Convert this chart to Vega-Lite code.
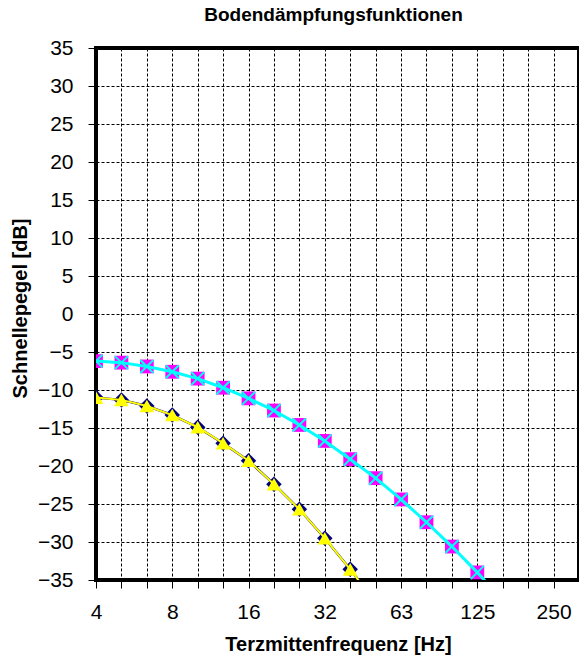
{
  "$schema": "https://vega.github.io/schema/vega-lite/v6.json",
  "width": 483,
  "height": 532,
  "autosize": {"type": "none"},
  "padding": {"left": 96, "top": 48, "right": 0, "bottom": 83},
  "background": "white",
  "title": {"text": "Bodendämpfungsfunktionen", "font": "Liberation Sans", "fontSize": 19, "fontWeight": "bold", "color": "black", "anchor": "middle", "baseline": "alphabetic", "offset": -3, "dx": -4},
  "config": {
    "view": {"stroke": "black", "strokeWidth": 4},
    "axis": {"labelFont": "Liberation Sans", "labelFontSize": 21, "labelColor": "black", "titleFont": "Liberation Sans", "titleFontSize": 20, "titleFontWeight": "bold", "titleColor": "black", "domain": false, "grid": true, "gridColor": "black", "gridDash": [3, 2], "gridWidth": 1, "gridOpacity": 1, "ticks": true, "tickColor": "black", "tickSize": 8, "tickWidth": 1}
  },
  "data": {"values": [
    {"band": 0, "freq": "4", "series": "s1", "level": -11.0},
    {"band": 1, "freq": "5", "series": "s1", "level": -11.3},
    {"band": 2, "freq": "6.3", "series": "s1", "level": -12.1},
    {"band": 3, "freq": "8", "series": "s1", "level": -13.3},
    {"band": 4, "freq": "10", "series": "s1", "level": -14.9},
    {"band": 5, "freq": "12.5", "series": "s1", "level": -17.0},
    {"band": 6, "freq": "16", "series": "s1", "level": -19.3},
    {"band": 7, "freq": "20", "series": "s1", "level": -22.4},
    {"band": 8, "freq": "25", "series": "s1", "level": -25.7},
    {"band": 9, "freq": "32", "series": "s1", "level": -29.5},
    {"band": 10, "freq": "40", "series": "s1", "level": -33.6},
    {"band": 11, "freq": "50", "series": "s1", "level": -38.0},
    {"band": 0, "freq": "4", "series": "s3", "level": -11.0},
    {"band": 1, "freq": "5", "series": "s3", "level": -11.3},
    {"band": 2, "freq": "6.3", "series": "s3", "level": -12.1},
    {"band": 3, "freq": "8", "series": "s3", "level": -13.3},
    {"band": 4, "freq": "10", "series": "s3", "level": -14.9},
    {"band": 5, "freq": "12.5", "series": "s3", "level": -17.0},
    {"band": 6, "freq": "16", "series": "s3", "level": -19.3},
    {"band": 7, "freq": "20", "series": "s3", "level": -22.4},
    {"band": 8, "freq": "25", "series": "s3", "level": -25.7},
    {"band": 9, "freq": "32", "series": "s3", "level": -29.5},
    {"band": 10, "freq": "40", "series": "s3", "level": -33.6},
    {"band": 11, "freq": "50", "series": "s3", "level": -38.0},
    {"band": 0, "freq": "4", "series": "s2", "level": -6.2},
    {"band": 1, "freq": "5", "series": "s2", "level": -6.4},
    {"band": 2, "freq": "6.3", "series": "s2", "level": -6.9},
    {"band": 3, "freq": "8", "series": "s2", "level": -7.6},
    {"band": 4, "freq": "10", "series": "s2", "level": -8.5},
    {"band": 5, "freq": "12.5", "series": "s2", "level": -9.7},
    {"band": 6, "freq": "16", "series": "s2", "level": -11.1},
    {"band": 7, "freq": "20", "series": "s2", "level": -12.7},
    {"band": 8, "freq": "25", "series": "s2", "level": -14.6},
    {"band": 9, "freq": "32", "series": "s2", "level": -16.7},
    {"band": 10, "freq": "40", "series": "s2", "level": -19.1},
    {"band": 11, "freq": "50", "series": "s2", "level": -21.6},
    {"band": 12, "freq": "63", "series": "s2", "level": -24.4},
    {"band": 13, "freq": "80", "series": "s2", "level": -27.4},
    {"band": 14, "freq": "100", "series": "s2", "level": -30.6},
    {"band": 15, "freq": "125", "series": "s2", "level": -34.0},
    {"band": 16, "freq": "160", "series": "s2", "level": -37.7},
    {"band": 0, "freq": "4", "series": "s4", "level": -6.2},
    {"band": 1, "freq": "5", "series": "s4", "level": -6.4},
    {"band": 2, "freq": "6.3", "series": "s4", "level": -6.9},
    {"band": 3, "freq": "8", "series": "s4", "level": -7.6},
    {"band": 4, "freq": "10", "series": "s4", "level": -8.5},
    {"band": 5, "freq": "12.5", "series": "s4", "level": -9.7},
    {"band": 6, "freq": "16", "series": "s4", "level": -11.1},
    {"band": 7, "freq": "20", "series": "s4", "level": -12.7},
    {"band": 8, "freq": "25", "series": "s4", "level": -14.6},
    {"band": 9, "freq": "32", "series": "s4", "level": -16.7},
    {"band": 10, "freq": "40", "series": "s4", "level": -19.1},
    {"band": 11, "freq": "50", "series": "s4", "level": -21.6},
    {"band": 12, "freq": "63", "series": "s4", "level": -24.4},
    {"band": 13, "freq": "80", "series": "s4", "level": -27.4},
    {"band": 14, "freq": "100", "series": "s4", "level": -30.6},
    {"band": 15, "freq": "125", "series": "s4", "level": -34.0},
    {"band": 16, "freq": "160", "series": "s4", "level": -37.7}
  ]},
  "encoding": {
    "x": {"field": "band", "type": "quantitative", "scale": {"domain": [0, 19], "nice": false, "zero": false},
      "axis": {"values": [0,1,2,3,4,5,6,7,8,9,10,11,12,13,14,15,16,17,18,19], "labelExpr": "datum.value % 3 === 0 ? ['4','8','16','32','63','125','250'][datum.value / 3] : ''", "labelPadding": 13, "labelFlush": false, "labelOverlap": false, "title": "Terzmittenfrequenz [Hz]", "titleBaseline": "alphabetic", "titleY": 70, "titleX": 242}},
    "y": {"field": "level", "type": "quantitative", "scale": {"domain": [-35, 35], "nice": false, "zero": false},
      "axis": {"values": [-35,-30,-25,-20,-15,-10,-5,0,5,10,15,20,25,30,35], "labelPadding": 15, "labelFlush": false, "labelOverlap": false, "title": "Schnellepegel [dB]", "titleBaseline": "alphabetic", "titleAngle": 270, "titleX": -70, "titleY": 260}}
  },
  "layer": [
    {"transform": [{"filter": "datum.series === 's1'"}], "mark": {"type": "line", "color": "#000080", "strokeWidth": 2.4, "clip": true}},
    {"transform": [{"filter": "datum.series === 's1'"}], "mark": {"type": "point", "shape": "diamond", "filled": true, "color": "#000080", "opacity": 1, "size": 240, "clip": true}},
    {"transform": [{"filter": "datum.series === 's3'"}], "mark": {"type": "line", "color": "#FFFF00", "strokeWidth": 2, "clip": true}},
    {"transform": [{"filter": "datum.series === 's3'"}], "mark": {"type": "point", "shape": "triangle-up", "filled": true, "color": "#FFFF00", "opacity": 1, "size": 210, "clip": true}},
    {"transform": [{"filter": "datum.series === 's2'"}], "mark": {"type": "line", "color": "#FF00FF", "strokeWidth": 1.5, "clip": true}},
    {"transform": [{"filter": "datum.series === 's2'"}], "mark": {"type": "point", "shape": "square", "filled": true, "color": "#FF00FF", "opacity": 1, "size": 190, "clip": true}},
    {"transform": [{"filter": "datum.series === 's4'"}], "mark": {"type": "line", "color": "#00FFFF", "strokeWidth": 3, "clip": true}},
    {"transform": [{"filter": "datum.series === 's4'"}], "mark": {"type": "point", "shape": "M-1,-1L1,1M-1,1L1,-1", "filled": false, "color": "#00FFFF", "strokeWidth": 2, "opacity": 1, "size": 170, "clip": true}}
  ]
}
